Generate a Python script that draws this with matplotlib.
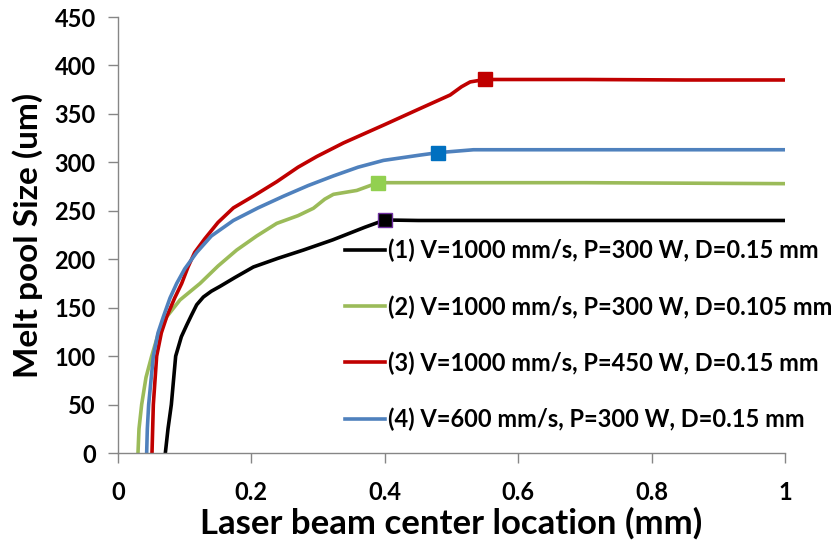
import matplotlib
matplotlib.use('Agg')
import matplotlib.pyplot as plt

plt.rcParams['font.family'] = ['Lato', 'DejaVu Sans']
plt.rcParams['font.weight'] = 'bold'

labels = ['(1) V=1000 mm/s, P=300 W, D=0.15 mm',
          '(2) V=1000 mm/s, P=300 W, D=0.105 mm',
          '(3) V=1000 mm/s, P=450 W, D=0.15 mm',
          '(4) V=600 mm/s, P=300 W, D=0.15 mm']

x1 = [0.071, 0.075, 0.080, 0.0865, 0.095, 0.103, 0.11, 0.118, 0.128, 0.14, 0.153, 0.175, 0.203, 0.24, 0.278, 0.322, 0.37, 0.40, 0.45, 0.6, 0.8, 1.0]
y1 = [0, 25, 50, 100, 120, 132, 142, 153, 161, 167, 172, 181, 192, 201, 209.5, 220, 233, 240.5, 240, 240, 240, 240]

x2 = [0.030, 0.0315, 0.0355, 0.042, 0.0505, 0.06, 0.073, 0.093, 0.123, 0.15, 0.178, 0.208, 0.238, 0.27, 0.293, 0.31, 0.323, 0.358, 0.39, 0.5, 0.7, 1.0]
y2 = [0, 25, 50, 78, 100, 122, 140.6, 158, 175, 193, 209.5, 224, 237, 245, 252.6, 262, 267, 271, 279, 279, 279, 278]

x3 = [0.051, 0.052, 0.053, 0.058, 0.065, 0.073, 0.085, 0.0955, 0.105, 0.115, 0.13, 0.15, 0.173, 0.205, 0.238, 0.27, 0.298, 0.338, 0.40, 0.448, 0.498, 0.515, 0.528, 0.55, 0.7, 0.85, 1.0]
y3 = [0, 25, 50, 100, 124, 140.6, 160, 175, 192, 207, 221, 238, 253, 266, 280, 295, 306, 320, 339, 354, 369.5, 378, 383, 385.5, 385.5, 385, 385]

x4 = [0.043, 0.044, 0.046, 0.053, 0.06, 0.068, 0.078, 0.088, 0.10, 0.118, 0.14, 0.173, 0.21, 0.248, 0.285, 0.323, 0.36, 0.398, 0.453, 0.48, 0.533, 0.7, 1.0]
y4 = [0, 25, 50, 100, 124, 140.6, 160, 175, 190, 207, 224, 240, 253, 265, 276, 286, 295, 302, 307.5, 310, 313, 313, 313]

# index of the point that gets the square marker
mark_idx = [17, 18, 23, 19]
line_colors = ['black', '#9bbb59', '#c00000', '#4f81bd']
marker_colors = ['black', '#92d050', '#c00000', '#0070c0']
marker_edges = ['#7030a0', '#92d050', '#c00000', '#0070c0']

fig = plt.figure(figsize=(8.32, 5.52), dpi=100)
ax = fig.add_axes([0.1418, 0.1793, 0.8017, 0.7899])

series = [(x1, y1), (x2, y2), (x3, y3), (x4, y4)]
for i, (xs, ys) in enumerate(series):
    ax.plot(xs, ys, color=line_colors[i], lw=2.6, label=labels[i], zorder=2,
            solid_joinstyle='round')
    ax.plot([xs[mark_idx[i]]], [ys[mark_idx[i]]], 's', ms=9.5,
            mfc=marker_colors[i], mec=marker_edges[i], mew=1, zorder=3)

ax.set_xlim(0, 1)
ax.set_ylim(0, 450)
ax.set_xticks([0, 0.2, 0.4, 0.6, 0.8, 1])
ax.set_xticklabels(['0', '0.2', '0.4', '0.6', '0.8', '1'])
ax.set_yticks(range(0, 451, 50))

for s in ['top', 'right']:
    ax.spines[s].set_visible(False)
for s in ['left', 'bottom']:
    ax.spines[s].set_color('#868686')
    ax.spines[s].set_linewidth(1)
ax.tick_params(direction='out', length=7, width=1, color='#868686', labelsize=17)
ax.tick_params(axis='x', pad=13)
ax.tick_params(axis='y', pad=9)
for t in ax.get_xticklabels() + ax.get_yticklabels():
    t.set_fontweight('bold')

ax.set_xlabel('Laser beam center location (mm)', fontsize=25, fontweight='bold', labelpad=2)
ax.set_ylabel('Melt pool Size (um)', fontsize=24, fontweight='bold', labelpad=8)

leg = ax.legend(loc='upper left', bbox_to_anchor=(0.323, 0.518), frameon=False,
                fontsize=17, handlelength=1.7, handletextpad=0.1,
                labelspacing=1.38, borderpad=0)
for t in leg.get_texts():
    t.set_fontweight('bold')

fig.savefig('out.png', dpi=100)
